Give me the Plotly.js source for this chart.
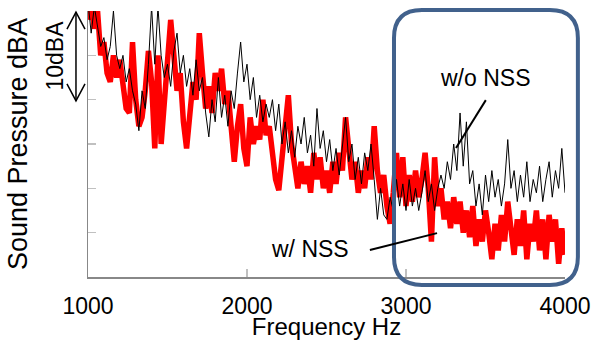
<!DOCTYPE html>
<html>
<head>
<meta charset="utf-8">
<script src="https://cdn.plot.ly/plotly-3.0.1.min.js"></script>
<style>html,body{margin:0;padding:0;background:#fff;}#chart{width:591px;height:340px;}</style>
</head>
<body>
<div id="chart"></div>
<script>
// Frequency bins (Hz)
const freqHz = [1000,1020,1040,1060,1080,1100,1120,1140,1160,1180,
1200,1220,1240,1260,1280,1300,1320,1340,1360,1380,
1400,1420,1440,1460,1480,1500,1520,1540,1560,1580,
1600,1620,1640,1660,1680,1700,1720,1740,1760,1780,
1800,1820,1840,1860,1880,1900,1920,1940,1960,1980,
2000,2020,2040,2060,2080,2100,2120,2140,2160,2180,
2200,2220,2240,2260,2280,2300,2320,2340,2360,2380,
2400,2420,2440,2460,2480,2500,2520,2540,2560,2580,
2600,2620,2640,2660,2680,2700,2720,2740,2760,2780,
2800,2820,2840,2860,2880,2900,2920,2940,2960,2980,
3000,3020,3040,3060,3080,3100,3120,3140,3160,3180,
3200,3220,3240,3260,3280,3300,3320,3340,3360,3380,
3400,3420,3440,3460,3480,3500,3520,3540,3560,3580,
3600,3620,3640,3660,3680,3700,3720,3740,3760,3780,
3800,3820,3840,3860,3880,3900,3920,3940,3960,3980,4000];

// Sound pressure, relative dBA, without NSS (thin black)
const withoutNSS = [31,27.5,30.5,28,26,27,24.5,26,30,25,
23.5,25,22,23.5,21,19.5,16.5,21,19,24,
30.5,24,30.5,25,22.5,24,21.5,25.5,27.5,23,
25,21.5,23.5,20.5,24.5,21,22.5,18.5,15.8,20,
17.5,22.5,18,20.5,17,21,19,23,26.5,22,
24,20,22.5,18,20.5,17.5,19.5,18,20,16.5,
19.5,15,17.5,14,16.5,13.5,17,15,18,14,
16,12.5,19,14.5,16.5,13,15.5,12,14.5,11.5,
15,18,13,15,11,13.5,10.5,14,12,15,
11,6.5,10,7,6.5,9,7.5,11,8,10.5,
7.5,11,8,10,7.5,9.5,12,8.5,10.5,7.5,
10,11.5,10,13,11,15,12,18.5,12.5,17.5,
10.5,12,8,10.5,7,11.5,8.5,12,9,11,
8,10.5,15.5,10,12,8.5,11.5,9,13,8.5,
11,9.5,12.5,8.5,11,13,9,12,10,14.5,9.5];

// Sound pressure, relative dBA, with NSS (thick red)
const withNSS = [29,31,28,30,25,26.5,23,22,25,22.5,
24.5,21.5,19,18.5,26.5,20,17,18,21,25.5,
22,14.5,25,15,20,24,29,25,21,23,
17.5,14.5,19,22,20,27.5,23,19,21.5,18.5,
23,21,23.5,19.5,21,17.5,13,17,19.5,14.5,
12.5,18,15,17,15.5,20,16,17,13.5,11,
9.8,13.5,17.5,20.5,15,12,10,13,10.5,12.5,
9.5,14,11,13.5,10,12,9.5,13,10.5,14,
12,18,14,11,13,9.5,12,10,13.5,11,
17,12,9.5,11.5,8,6,9.5,14,9,13.5,
8,11.5,8.5,12,9,11,14,10,4,13.5,
8,10,6.5,8.5,5.5,9,6,8.5,5,7.5,
4.5,8,3.5,6.5,4,7.5,5,2,6,3,
7,4,8.5,5,2.5,6.5,3.5,7.5,2,6,
4,7.5,3,6.5,2,7,4,6.5,1.5,5.5,2.5];

const xTicks = [1000, 2000, 3000, 4000];
const yTicks = [0, 5, 10, 15, 20, 25, 30];
const seriesNames = ['w/ NSS', 'w/o NSS'];

const FONT = 'Arial, "Liberation Sans", sans-serif';

const traces = [
  {x: freqHz, y: withNSS, type: 'scatter', mode: 'lines', name: seriesNames[0],
   line: {color: '#ff0000', width: 5.5}},
  {x: freqHz, y: withoutNSS, type: 'scatter', mode: 'lines', name: seriesNames[1],
   line: {color: '#000000', width: 1}}
];

// rounded rectangle helper in paper coords
function roundRect(x0, y0, x1, y1, rx, ry) {
  return `M ${x0+rx},${y1} L ${x1-rx},${y1} Q ${x1},${y1} ${x1},${y1-ry} ` +
         `L ${x1},${y0+ry} Q ${x1},${y0} ${x1-rx},${y0} L ${x0+rx},${y0} ` +
         `Q ${x0},${y0} ${x0},${y0+ry} L ${x0},${y1-ry} Q ${x0},${y1} ${x0+rx},${y1} Z`;
}

const ax = -0.0252, dxh = 0.0189, dyh = 0.064;
const shapes = [
  {type: 'path', xref: 'paper', yref: 'paper',
   path: roundRect(0.6415, -0.030, 1.027, 1.0038, 0.0587, 0.105),
   line: {color: '#41618c', width: 4}},
  {type: 'line', xref: 'paper', yref: 'paper', x0: 0.834, y0: 0.665, x1: 0.7715, y1: 0.485,
   line: {color: '#000', width: 2}},
  {type: 'line', xref: 'paper', yref: 'paper', x0: 0.591, y0: 0.1015, x1: 0.7317, y1: 0.165,
   line: {color: '#000', width: 2}},
  // 10 dBA double arrow
  {type: 'line', xref: 'paper', yref: 'paper', x0: ax, y0: 0.996, x1: ax, y1: 0.662,
   line: {color: '#000', width: 1.5}},
  {type: 'path', xref: 'paper', yref: 'paper',
   path: `M ${ax-dxh},${0.996-dyh} L ${ax},0.996 L ${ax+dxh},${0.996-dyh}`,
   line: {color: '#000', width: 1.5}},
  {type: 'path', xref: 'paper', yref: 'paper',
   path: `M ${ax-dxh},${0.662+dyh} L ${ax},0.662 L ${ax+dxh},${0.662+dyh}`,
   line: {color: '#000', width: 1.5}}
];

const annotations = [
  {text: 'w/o NSS', xref: 'paper', yref: 'paper', x: 0.832, y: 0.748, showarrow: false,
   xanchor: 'center', yanchor: 'middle',
   font: {family: FONT, size: 23, color: '#000'}},
  {text: 'w/ NSS', xref: 'paper', yref: 'paper', x: 0.465, y: 0.105, showarrow: false,
   xanchor: 'center', yanchor: 'middle',
   font: {family: FONT, size: 23, color: '#000'}},
  {text: '10dBA', xref: 'paper', yref: 'paper', x: -0.069, y: 0.833, showarrow: false,
   xanchor: 'center', yanchor: 'middle',
   textangle: -90, font: {family: FONT, size: 23, color: '#000'}}
];

const layout = {
  width: 591, height: 340,
  margin: {l: 88, r: 26, t: 11, b: 63},
  paper_bgcolor: '#fff', plot_bgcolor: '#fff',
  showlegend: false,
  font: {family: FONT, color: '#000'},
  xaxis: {
    range: [1000, 4000], tickvals: xTicks, ticktext: xTicks.map(String),
    ticks: 'inside', ticklen: 8, tickcolor: '#c0c0c0', tickwidth: 1.5,
    showline: true, linecolor: '#888', linewidth: 1.5,
    showgrid: false, zeroline: false,
    tickfont: {family: FONT, size: 23, color: '#000'},
    ticklabelstandoff: 8,
    title: {text: 'Frequency Hz', font: {family: FONT, size: 24, color: '#000'}, standoff: 8}
  },
  yaxis: {
    range: [0, 30], tickvals: yTicks, showticklabels: false,
    ticks: 'inside', ticklen: 8, tickcolor: '#c0c0c0', tickwidth: 1.5,
    showline: true, linecolor: '#888', linewidth: 1.5,
    showgrid: false, zeroline: false,
    title: {text: 'Sound Pressure dBA', font: {family: FONT, size: 27, color: '#000'}, standoff: 51}
  },
  shapes: shapes,
  annotations: annotations
};

Plotly.newPlot('chart', traces, layout, {displayModeBar: false, staticPlot: true});
</script>
</body>
</html>
